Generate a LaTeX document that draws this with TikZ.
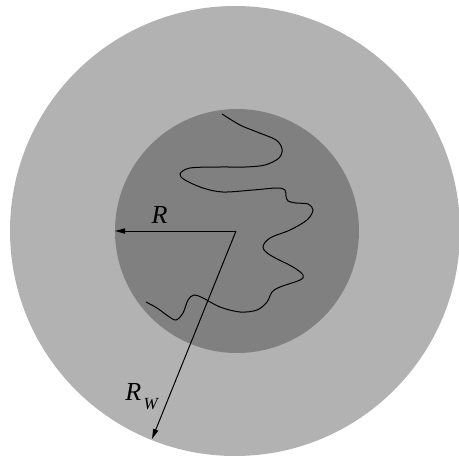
\documentclass[tikz,border=0pt]{standalone}
\usepackage{fontspec}
\setmainfont{Liberation Serif}
\usetikzlibrary{arrows.meta}
\definecolor{wallgray}{gray}{0.70}
\definecolor{coregray}{gray}{0.50}
\tikzset{radius arrow/.style={line width=0.5pt, -{Triangle[length=5pt,width=2.6pt]}}}
\begin{document}
\begin{tikzpicture}[x=0.5pt, y=-0.5pt]
        \useasboundingbox (0, 0) rectangle (459, 461);
        \fill[wallgray] (235, 231) circle[radius=225];
        \fill[coregray] (237, 231) circle[radius=122];

        % chain
        \draw[line width=0.5pt] plot[smooth, tension=0.55] coordinates {
            (222,114) (240,125) (257,132) (276,140) (282,149) (279,158) (265,165) (245,167)
            (220,167) (190,168) (180,174) (185,180) (203,188) (223,192) (253,190)
            (277,188) (285,190) (286,196) (288,201) (296,203) (308,204) (313,210)
            (307,220) (290,230) (270,238) (263,247) (270,255) (293,267) (303,275)
            (300,280) (280,287) (272,292) (267,302) (257,310) (240,312) (220,307)
            (203,298) (194,295) (188,300) (183,313) (176,320) (168,316) (157,308) (146,302)};

        \coordinate (O) at (236, 231);
        \coordinate (Rend) at (115, 231);
        \coordinate (RWend) at (152, 439);
        \draw[radius arrow] (O) -- (Rend);
        \draw[radius arrow] (O) -- (RWend);

        \node[inner sep=0pt, anchor=base] (Rlabel) at (159.5, 223) {\fontsize{13}{15}\selectfont\textit{R}};
        \node[inner sep=0pt, anchor=base west] (RWlabel) at (125, 400)
            {\fontsize{13}{15}\selectfont\textit{R}\kern1.2pt\raisebox{-4.5pt}{\fontsize{8.5}{10}\selectfont\textit{W}}};
    \end{tikzpicture}
\end{document}
